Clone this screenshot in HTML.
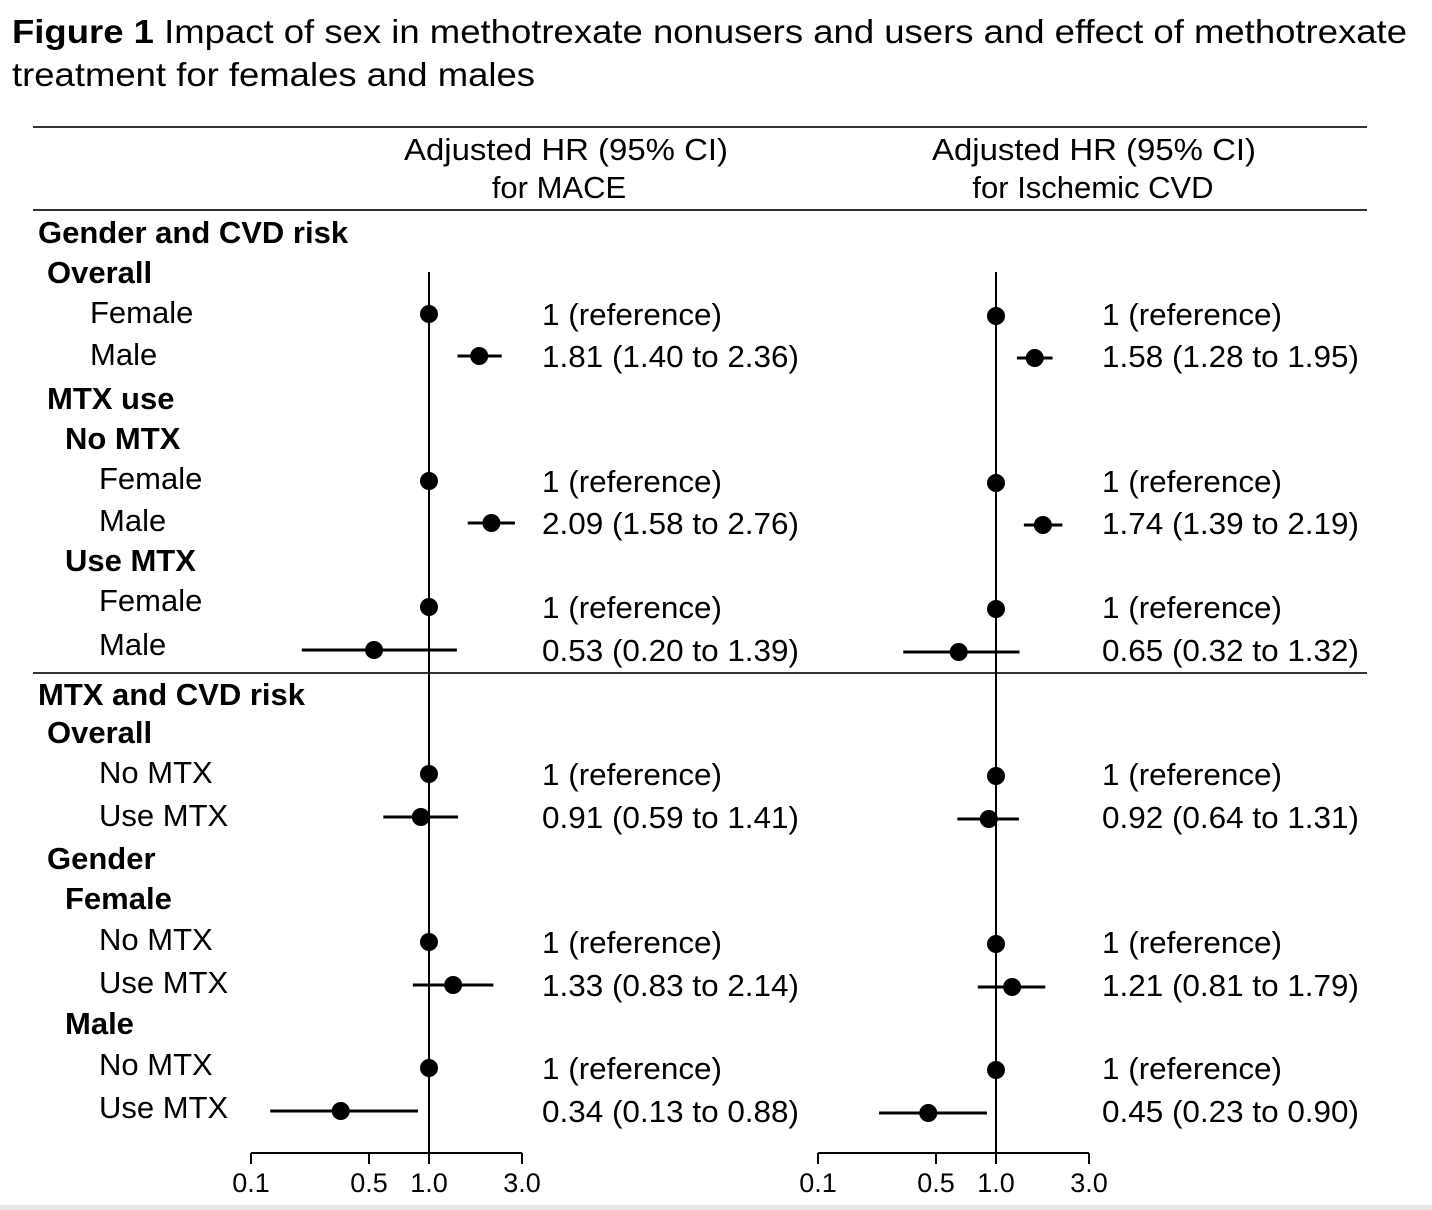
<!DOCTYPE html>
<html><head><meta charset="utf-8"><style>
html,body{margin:0;padding:0;background:#fff;}
svg{display:block;font-family:"Liberation Sans",Arial,sans-serif;}
</style></head><body>
<svg id="fig" width="1432" height="1210" viewBox="0 0 1432 1210">
<rect x="0" y="1205" width="1432" height="5" fill="#e6e6e6"/>
<text x="12" y="43" font-size="33" textLength="1395" lengthAdjust="spacingAndGlyphs"><tspan font-weight="bold">Figure 1</tspan> Impact of sex in methotrexate nonusers and users and effect of methotrexate</text>
<text x="12" y="86" font-size="33" textLength="523" lengthAdjust="spacingAndGlyphs">treatment for females and males</text>
<line x1="33" y1="127" x2="1367" y2="127" stroke="#333" stroke-width="2"/>
<line x1="33" y1="210" x2="1367" y2="210" stroke="#333" stroke-width="2"/>
<line x1="33" y1="673" x2="1367" y2="673" stroke="#333" stroke-width="2"/>
<text x="566" y="160" font-size="31" text-anchor="middle" textLength="324" lengthAdjust="spacingAndGlyphs">Adjusted HR (95% CI)</text>
<text x="559" y="198" font-size="31" text-anchor="middle">for MACE</text>
<text x="1094" y="160" font-size="31" text-anchor="middle" textLength="324" lengthAdjust="spacingAndGlyphs">Adjusted HR (95% CI)</text>
<text x="1093" y="198" font-size="31" text-anchor="middle">for Ischemic CVD</text>
<g id="labels"></g>
<g id="panels"></g>
</svg>
<script>
const labelText = ["Gender and CVD risk","Overall","Female","Male","MTX use","No MTX","Female","Male","Use MTX","Female","Male","MTX and CVD risk","Overall","No MTX","Use MTX","Gender","Female","No MTX","Use MTX","Male","No MTX","Use MTX"];
const labelBold = [1,1,0,0,1,1,0,0,1,0,0,1,1,0,0,1,1,0,0,1,0,0];
const labelX = [38,47,90,90,47,65,99,99,65,99,99,38,47,99,99,47,65,99,99,65,99,99];
const labelY = [243,283,323,365,409,449,489,531,571,611,655,705,743,783,826,869,909,950,993,1034,1075,1118];
const rowY = [314,356,481,523,607,650,774,817,942,985,1068,1111];
const maceHR = [1,1.81,1,2.09,1,0.53,1,0.91,1,1.33,1,0.34];
const maceLo = [null,1.40,null,1.58,null,0.20,null,0.59,null,0.83,null,0.13];
const maceHi = [null,2.36,null,2.76,null,1.39,null,1.41,null,2.14,null,0.88];
const maceTxt = ["1 (reference)","1.81 (1.40 to 2.36)","1 (reference)","2.09 (1.58 to 2.76)","1 (reference)","0.53 (0.20 to 1.39)","1 (reference)","0.91 (0.59 to 1.41)","1 (reference)","1.33 (0.83 to 2.14)","1 (reference)","0.34 (0.13 to 0.88)"];
const cvdHR = [1,1.58,1,1.74,1,0.65,1,0.92,1,1.21,1,0.45];
const cvdLo = [null,1.28,null,1.39,null,0.32,null,0.64,null,0.81,null,0.23];
const cvdHi = [null,1.95,null,2.19,null,1.32,null,1.31,null,1.79,null,0.90];
const cvdTxt = ["1 (reference)","1.58 (1.28 to 1.95)","1 (reference)","1.74 (1.39 to 2.19)","1 (reference)","0.65 (0.32 to 1.32)","1 (reference)","0.92 (0.64 to 1.31)","1 (reference)","1.21 (0.81 to 1.79)","1 (reference)","0.45 (0.23 to 0.90)"];
const tickVals = [0.1,0.5,1.0,3.0];
const tickLabels = ["0.1","0.5","1.0","3.0"];

const NS="http://www.w3.org/2000/svg";
function mk(tag,attrs,parent,txt){const e=document.createElementNS(NS,tag);for(const k in attrs)e.setAttribute(k,attrs[k]);if(txt!=null)e.textContent=txt;parent.appendChild(e);return e;}
const lg=document.getElementById('labels');
labelText.forEach((t,i)=>{
  const e=mk('text',{x:labelX[i],y:labelY[i],'font-size':31,'font-weight':labelBold[i]?'bold':'normal'},lg,t);
  
  
});
const pg=document.getElementById('panels');
// piecewise log scale through axis anchors (offsets from the 1.0 reference line)
const anchorVals=[0.1,0.5,1.0,3.0];
const anchorOff=[-178,-60,0,93];
function panel(name,x1,hr,lo,hi,txt,textX,dy){
  const g=mk('g',{},pg);
  
  
  const sx=v=>{
    const L=Math.log10(v);
    let k=0;
    while(k<anchorVals.length-2 && L>Math.log10(anchorVals[k+1]))k++;
    const a=Math.log10(anchorVals[k]),b=Math.log10(anchorVals[k+1]);
    return x1+anchorOff[k]+(L-a)/(b-a)*(anchorOff[k+1]-anchorOff[k]);
  };
  const ref=mk('line',{x1:sx(1),y1:272,x2:sx(1),y2:1153,stroke:'#000','stroke-width':2},g);
  
  
  const ax=mk('line',{x1:sx(tickVals[0]),y1:1153,x2:sx(tickVals[tickVals.length-1]),y2:1153,stroke:'#000','stroke-width':2},g);
  
  
  tickVals.forEach((v,i)=>{
    const t=mk('line',{x1:sx(v),y1:1153,x2:sx(v),y2:1164,stroke:'#000','stroke-width':2},g);
    
    
    const l=mk('text',{x:sx(v),y:1192,'font-size':27,'text-anchor':'middle'},g,tickLabels[i]);
    
    
  });
  hr.forEach((v,i)=>{
    const y=rowY[i]+dy;
    if(lo[i]!=null){
      const c=mk('line',{x1:sx(lo[i]),y1:y,x2:sx(hi[i]),y2:y,stroke:'#000','stroke-width':3},g);
      
      
    }
    const d=mk('circle',{cx:sx(v),cy:y,r:9,fill:'#000'},g);
    
    
    const t=mk('text',{x:textX,y:rowY[i]+11,'font-size':31,textLength:txt[i].length>14?257:180,lengthAdjust:'spacingAndGlyphs'},g,txt[i]);
    
    
  });
}
panel('mace',429,maceHR,maceLo,maceHi,maceTxt,542,0);
panel('cvd',996,cvdHR,cvdLo,cvdHi,cvdTxt,1102,2);
</script>
</body></html>
